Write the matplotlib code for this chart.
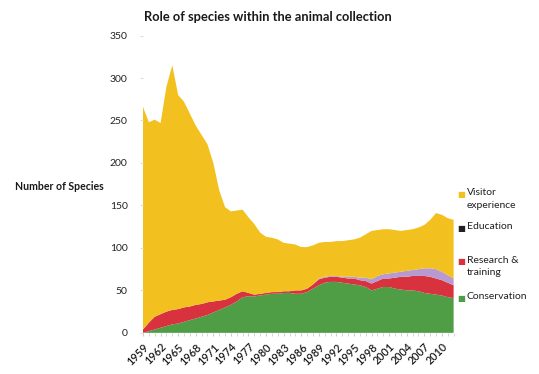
import numpy as np
import matplotlib.pyplot as plt

# Species counts per role, one value per year 1959-2012
years = list(range(1959, 2013))

conservation = [0, 2, 4, 6, 8, 10, 11, 13, 15, 17,
                19, 21, 24, 27, 30, 33, 37, 42, 43, 43,
                44, 45, 46, 46, 47, 47, 46, 46, 48, 52,
                56, 59, 60, 60, 59, 58, 57, 56, 54, 50,
                52, 54, 54, 52, 51, 50, 50, 49, 47, 46,
                45, 44, 42, 41]

research = [4, 10, 15, 16, 17, 17, 17, 17, 16, 16,
            15, 15, 13, 11, 9, 9, 9, 7, 4, 2,
            2, 2, 2, 2, 2, 2, 4, 4, 4, 5,
            7, 6, 6, 6, 6, 6, 7, 6, 7, 8,
            9, 10, 10, 13, 15, 16, 17, 18, 20, 20,
            19, 18, 17, 15]

education = [0] * 30 + [1, 1, 1, 1,
                        1, 2, 2, 3, 4, 5,
                        6, 5, 6, 6, 6, 7, 7, 8, 9, 10,
                        11, 10, 9, 8]

visitor = [262, 236, 232, 225, 265, 288, 252, 242, 227, 211,
           199, 186, 163, 130, 109, 101, 98, 96, 89, 83,
           72, 66, 64, 62, 57, 56, 54, 51, 49, 46,
           42, 41, 40, 41, 42, 43, 44, 47, 51, 57,
           54, 53, 52, 50, 48, 48, 48, 49, 51, 57,
           66, 67, 67, 69]

tick_years = list(range(1959, 2011, 3))

colors = {
    'Conservation': '#4f9e46',
    'Research': '#d8323f',
    'Education': '#b79bd0',
    'Visitor': '#f3c11f',
}

fig = plt.figure(figsize=(5.39, 3.74), dpi=100)
ax = fig.add_axes([0.2653, 0.110, 0.5763, 0.795])

ax.stackplot(years, conservation, research, education, visitor,
             colors=[colors['Conservation'], colors['Research'],
                     colors['Education'], colors['Visitor']],
             linewidth=0)

ax.set_xlim(1959, 2012)
ax.set_ylim(0, 350)
ax.set_yticks(range(0, 351, 50))
ax.set_xticks(tick_years)
ax.set_xticks(years, minor=True)
ax.set_xticklabels([str(y) for y in tick_years], rotation=45, ha='right',
                   rotation_mode='anchor', fontsize=7.8, family='Lato',
                   fontweight='semibold', color='#1a1a1a')
for lbl in ax.get_yticklabels():
    lbl.set_family('Lato')
    lbl.set_fontsize(7.5)
    lbl.set_color('#222222')

for s in ax.spines.values():
    s.set_visible(False)
ax.tick_params(axis='y', length=2, color='#dddddd', pad=9)
ax.tick_params(axis='x', which='both', length=2, color='#cccccc', pad=4)

fig.text(0.497, 0.955, 'Role of species within the animal collection',
         ha='center', va='center', fontsize=9.3, fontweight='bold',
         family='Lato', color='#1a1a1a')
fig.text(0.028, 0.502, 'Number of Species', ha='left', va='center',
         fontsize=7.6, fontweight='bold', family='Lato', color='#1a1a1a')

# legend drawn as coloured squares next to the role names
legend_items = [
    ('Visitor', 'Visitor\nexperience', 0.492, '#f3c11f'),
    ('Education', 'Education', 0.402, '#222222'),
    ('Research', 'Research &\ntraining', 0.312, '#d8323f'),
    ('Conservation', 'Conservation', 0.214, '#4f9e46'),
]
for key, label, ypos, c in legend_items:
    fig.text(0.848, ypos, '\u25a0', color=c, fontsize=6, va='top',
             family='DejaVu Sans')
    fig.text(0.866, ypos + 0.004, label, fontsize=7.5, va='top',
             family='Lato', color='#222222', linespacing=1.45)

fig.savefig('out.png', dpi=100)
